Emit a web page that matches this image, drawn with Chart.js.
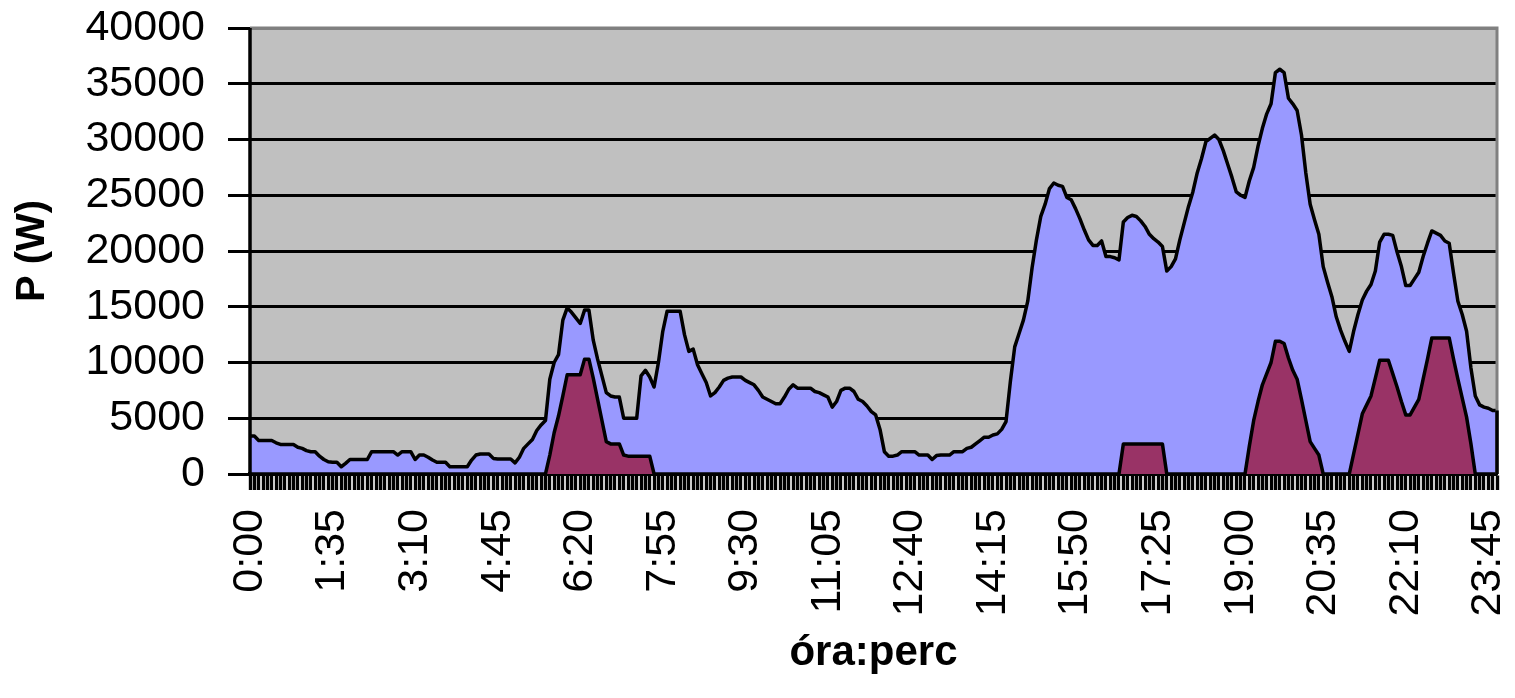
<!DOCTYPE html>
<html>
<head>
<meta charset="utf-8">
<script src="https://cdn.jsdelivr.net/npm/chart.js@4"></script>
<style>
  html, body { margin: 0; padding: 0; background: #fff; }
</style>
</head>
<body>
<canvas id="powerChart" width="1515" height="698"></canvas>
<script>
// one reading every 5 minutes, 0:00 .. 23:55
const times = [];
for (let m = 0; m < 24 * 60; m += 5) {
  times.push(Math.floor(m / 60) + ':' + String(m % 60).padStart(2, '0'));
}
const labelEvery = 19; // 1:35 between printed labels

// total power (W)
const totalPower = [
  3400, 3400, 3000, 3000, 3000, 3000, 2800, 2650, 2650, 2650,
  2650, 2400, 2300, 2100, 2000, 2000, 1600, 1300, 1100, 1050,
  1050, 650, 950, 1300, 1300, 1300, 1300, 1300, 2000, 2000,
  2000, 2000, 2000, 2000, 1700, 2000, 2000, 2000, 1300, 1700,
  1700, 1500, 1250, 1050, 1050, 1050, 650, 650, 650, 650,
  650, 1250, 1700, 1800, 1800, 1800, 1400, 1350, 1350, 1350,
  1350, 1000, 1500, 2300, 2700, 3100, 3900, 4400, 4800, 8500,
  10000, 10700, 13800, 14900, 14500, 14000, 13500, 14700, 14700, 12000,
  10300, 8800, 7300, 7000, 6900, 6900, 5000, 5000, 5000, 5000,
  8800, 9300, 8700, 7800, 10000, 12800, 14600, 14600, 14600, 14600,
  12500, 11000, 11200, 9800, 9000, 8200, 7000, 7300, 7800, 8400,
  8600, 8700, 8700, 8700, 8400, 8200, 8000, 7500, 6900, 6700,
  6500, 6300, 6300, 6900, 7600, 8000, 7700, 7700, 7700, 7700,
  7400, 7300, 7100, 6900, 6000, 6500, 7500, 7700, 7700, 7400,
  6700, 6500, 6100, 5600, 5300, 4000, 2000, 1600, 1600, 1700,
  2000, 2000, 2000, 2000, 1700, 1700, 1700, 1300, 1650, 1700,
  1700, 1700, 2000, 2000, 2000, 2300, 2400, 2700, 3000, 3300,
  3300, 3500, 3600, 4000, 4700, 8300, 11400, 12600, 13800, 15500,
  18500, 21000, 23100, 24200, 25600, 26100, 25900, 25800, 24800, 24600,
  23800, 22900, 21900, 21000, 20500, 20500, 20900, 19500, 19500, 19400,
  19200, 22600, 23000, 23200, 23100, 22700, 22200, 21500, 21100, 20800,
  20400, 18200, 18600, 19300, 21000, 22500, 24000, 25300, 27000, 28300,
  29800, 30100, 30400, 30000, 29000, 27800, 26600, 25300, 25000, 24800,
  26300, 27500, 29400, 31000, 32300, 33200, 36000, 36300, 36000, 33700,
  33200, 32600, 30400, 27000, 24200, 22800, 21500, 18600, 17200, 15900,
  14100, 12900, 11900, 11000, 12800, 14300, 15600, 16400, 17000, 18200,
  20800, 21500, 21500, 21400, 19900, 18600, 16900, 16900, 17500, 18100,
  19500, 20700, 21800, 21600, 21400, 20900, 20700, 18000, 15500, 14300,
  12800, 9500, 7000, 6200, 6000, 5900, 5700, 5700
];

// second consumer (W)
const secondPower = [
  0, 0, 0, 0, 0, 0, 0, 0, 0, 0,
  0, 0, 0, 0, 0, 0, 0, 0, 0, 0,
  0, 0, 0, 0, 0, 0, 0, 0, 0, 0,
  0, 0, 0, 0, 0, 0, 0, 0, 0, 0,
  0, 0, 0, 0, 0, 0, 0, 0, 0, 0,
  0, 0, 0, 0, 0, 0, 0, 0, 0, 0,
  0, 0, 0, 0, 0, 0, 0, 0, 0, 1700,
  3700, 5200, 7000, 8900, 8900, 8900, 8900, 10300, 10300, 8600,
  6700, 4800, 2900, 2700, 2700, 2700, 1700, 1600, 1600, 1600,
  1600, 1600, 1600, 0, 0, 0, 0, 0, 0, 0,
  0, 0, 0, 0, 0, 0, 0, 0, 0, 0,
  0, 0, 0, 0, 0, 0, 0, 0, 0, 0,
  0, 0, 0, 0, 0, 0, 0, 0, 0, 0,
  0, 0, 0, 0, 0, 0, 0, 0, 0, 0,
  0, 0, 0, 0, 0, 0, 0, 0, 0, 0,
  0, 0, 0, 0, 0, 0, 0, 0, 0, 0,
  0, 0, 0, 0, 0, 0, 0, 0, 0, 0,
  0, 0, 0, 0, 0, 0, 0, 0, 0, 0,
  0, 0, 0, 0, 0, 0, 0, 0, 0, 0,
  0, 0, 0, 0, 0, 0, 0, 0, 0, 0,
  0, 2700, 2700, 2700, 2700, 2700, 2700, 2700, 2700, 2700,
  2700, 0, 0, 0, 0, 0, 0, 0, 0, 0,
  0, 0, 0, 0, 0, 0, 0, 0, 0, 0,
  2500, 4800, 6500, 8000, 9000, 10000, 11900, 11900, 11700, 10400,
  9300, 8500, 6700, 4800, 2900, 2300, 1700, 0, 0, 0,
  0, 0, 0, 0, 1800, 3600, 5400, 6200, 7000, 8600,
  10200, 10200, 10200, 9000, 7800, 6500, 5300, 5300, 6000, 6700,
  8500, 10300, 12200, 12200, 12200, 12200, 12200, 10300, 8500, 6800,
  5100, 2700, 0, 0, 0, 0, 0, 0
];

const font = 'Liberation Sans';

// grey plot background, grey frame top/right, black value axis on top of the areas
const plotFrame = {
  id: 'plotFrame',
  beforeDraw(chart) {
    const { ctx, chartArea: a } = chart;
    ctx.save();
    ctx.fillStyle = '#C0C0C0';
    ctx.fillRect(a.left, a.top, a.right - a.left, a.bottom - a.top);
    ctx.restore();
  },
  afterDatasetsDraw(chart) {
    const { ctx, chartArea: a } = chart;
    ctx.save();
    ctx.strokeStyle = '#808080';
    ctx.lineWidth = 3;
    ctx.beginPath();
    ctx.moveTo(a.left, a.top);
    ctx.lineTo(a.right, a.top);
    ctx.lineTo(a.right, a.bottom);
    ctx.stroke();
    // closing edge of the total area at the right end
    const pts = chart.getDatasetMeta(0).data;
    const last = pts[pts.length - 1];
    ctx.strokeStyle = '#000';
    ctx.lineWidth = 3.5;
    ctx.beginPath();
    ctx.moveTo(a.right, last.y);
    ctx.lineTo(a.right, a.bottom);
    ctx.stroke();
    ctx.lineWidth = 3.5;
    ctx.beginPath();
    ctx.moveTo(a.left, a.top);
    ctx.lineTo(a.left, a.bottom);
    ctx.stroke();
    ctx.restore();
  }
};

const ctx = document.getElementById('powerChart').getContext('2d');
new Chart(ctx, {
  type: 'line',
  data: {
    labels: times,
    datasets: [
      {
        label: 'Összes',
        data: totalPower,
        backgroundColor: '#9999FF',
        borderColor: '#000',
        borderWidth: 3.5,
        fill: 'origin',
        order: 2
      },
      {
        label: 'Fogyasztó',
        data: secondPower,
        backgroundColor: '#993366',
        borderColor: '#000',
        borderWidth: 3.5,
        fill: 'origin',
        order: 1
      }
    ]
  },
  options: {
    responsive: false,
    animation: false,
    layout: { padding: { top: 28, right: 18, left: 0, bottom: 0 } },
    elements: {
      point: { radius: 0 },
      line: { tension: 0, borderJoinStyle: 'round' }
    },
    plugins: {
      legend: { display: false },
      tooltip: { enabled: false }
    },
    scales: {
      x: {
        z: 1,
        offset: false,
        border: { color: '#000', width: 3.5 },
        grid: {
          drawOnChartArea: false,
          drawTicks: true,
          tickLength: 16,
          tickWidth: 3.4,
          tickColor: '#000'
        },
        ticks: {
          autoSkip: false,
          minRotation: 90,
          maxRotation: 90,
          padding: 19,
          color: '#000',
          font: { family: font, size: 43 },
          callback: (v, i) => (i % labelEvery === 0 ? times[i] : '')
        },
        title: {
          display: true,
          text: 'óra:perc',
          color: '#000',
          font: { family: font, size: 42, weight: 'bold' },
          padding: { top: 0, bottom: 19 }
        },
        afterFit(scale) {
          scale.height = 224;
          scale.paddingLeft = 0;
          scale.paddingRight = 0;
        }
      },
      y: {
        min: 0,
        max: 40000,
        border: { display: false },
        grid: {
          color: (c) => (c.tick.value === 40000 ? '#808080' : '#000'),
          lineWidth: 3,
          tickLength: 22,
          tickColor: '#000',
          tickWidth: 3
        },
        ticks: {
          stepSize: 5000,
          padding: 23,
          color: '#000',
          font: { family: font, size: 43 },
          callback: (v) => String(v)
        },
        title: {
          display: true,
          text: 'P (W)',
          color: '#000',
          font: { family: font, size: 40, weight: 'bold' },
          padding: { top: 9, bottom: 0 }
        },
        afterFit(scale) {
          scale.width = 250;
          scale.paddingTop = 0;
          scale.paddingBottom = 0;
        }
      }
    }
  },
  plugins: [plotFrame]
});
</script>
</body>
</html>
